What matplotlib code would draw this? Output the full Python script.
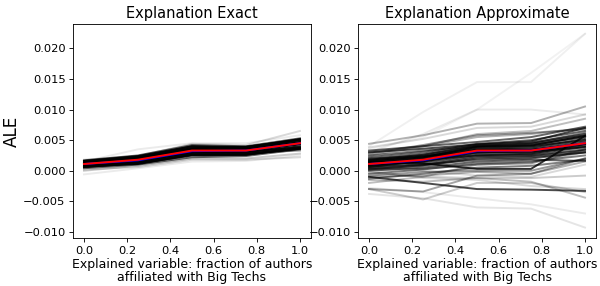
import numpy as np
import matplotlib
matplotlib.use('Agg')
import matplotlib.pyplot as plt

# grid of the explained variable
x_vals = [0.0, 0.25, 0.5, 0.75, 1.0]

# mean curves (same in both panels)
red_line = [0.0011, 0.0018, 0.0033, 0.0033, 0.0045]
blue_line = [0.0011, 0.0017, 0.0032, 0.0033, 0.0045]

# individual ALE curves, exact explanation
exact_curves = [
    [0.0011, 0.0018, 0.0033, 0.0033, 0.0045],
    [0.0014, 0.0021, 0.0036, 0.0036, 0.0050],
    [0.0008, 0.0015, 0.0030, 0.0030, 0.0040],
    [0.0016, 0.0023, 0.0038, 0.0038, 0.0052],
    [0.0006, 0.0013, 0.0027, 0.0028, 0.0036],
    [0.0010, 0.0016, 0.0031, 0.0032, 0.0043],
    [0.0012, 0.0019, 0.0034, 0.0035, 0.0047],
    [0.0009, 0.0012, 0.0025, 0.0026, 0.0037],
    [0.0004, 0.0010, 0.0022, 0.0024, 0.0035],
    [0.0017, 0.0025, 0.0042, 0.0040, 0.0053],
    [0.0013, 0.0022, 0.0040, 0.0037, 0.0048],
    [0.0018, 0.0024, 0.0044, 0.0042, 0.0065],
    [0.0015, 0.0035, 0.0045, 0.0045, 0.0058],
    [0.0002, 0.0006, 0.0018, 0.0018, 0.0022],
    [-0.0006, 0.0004, 0.0015, 0.0016, 0.0025],
    [0.0000, 0.0008, 0.0020, 0.0020, 0.0028],
    [0.0007, 0.0014, 0.0028, 0.0029, 0.0033],
    [0.0011, 0.0017, 0.0032, 0.0033, 0.0044],
    [0.0013, 0.0020, 0.0035, 0.0034, 0.0046],
    [0.0009, 0.0016, 0.0029, 0.0031, 0.0038],
    [0.0015, 0.0022, 0.0037, 0.0039, 0.0051],
    [0.0007, 0.0011, 0.0026, 0.0027, 0.0036],
    [0.0016, 0.0024, 0.0040, 0.0039, 0.0051],
    [0.0006, 0.0012, 0.0026, 0.0026, 0.0037],
]
exact_alpha = [0.9, 0.9, 0.9, 0.8, 0.9, 0.9, 0.9, 0.8, 0.6, 0.6, 0.7,
               0.15, 0.08, 0.15, 0.08, 0.2, 0.4, 0.9, 0.9, 0.9, 0.9, 0.9,
               0.9, 0.9]

# individual ALE curves, approximate explanation
approx_curves = [
    [0.0012, 0.0020, 0.0035, 0.0036, 0.0048],
    [0.0016, 0.0025, 0.0040, 0.0042, 0.0055],
    [0.0008, 0.0015, 0.0029, 0.0030, 0.0040],
    [0.0019, 0.0028, 0.0043, 0.0046, 0.0060],
    [0.0005, 0.0011, 0.0024, 0.0025, 0.0035],
    [0.0022, 0.0031, 0.0044, 0.0050, 0.0065],
    [0.0003, 0.0008, 0.0020, 0.0022, 0.0030],
    [0.0030, 0.0036, 0.0043, 0.0048, 0.0070],
    [0.0033, 0.0040, 0.0047, 0.0055, 0.0072],
    [0.0015, 0.0012, 0.0003, 0.0003, 0.0057],
    [-0.0010, -0.0020, -0.0030, -0.0031, -0.0033],
    [-0.0030, -0.0034, -0.0008, -0.0005, 0.0020],
    [-0.0030, -0.0047, -0.0020, -0.0020, -0.0035],
    [-0.0038, -0.0045, -0.0060, -0.0062, -0.0093],
    [-0.0028, -0.0035, -0.0045, -0.0055, -0.0070],
    [-0.0015, -0.0018, -0.0012, -0.0018, -0.0044],
    [0.0044, 0.0058, 0.0077, 0.0078, 0.0105],
    [0.0038, 0.0052, 0.0070, 0.0072, 0.0092],
    [0.0040, 0.0096, 0.0145, 0.0145, 0.0224],
    [0.0030, 0.0060, 0.0100, 0.0100, 0.0092],
    [0.0035, 0.0055, 0.0100, 0.0160, 0.0224],
    [0.0025, 0.0040, 0.0060, 0.0065, 0.0085],
    [0.0028, 0.0042, 0.0058, 0.0062, 0.0068],
    [-0.0005, 0.0002, 0.0012, 0.0015, 0.0025],
    [-0.0013, -0.0005, 0.0005, 0.0008, 0.0018],
    [0.0000, 0.0005, 0.0015, 0.0018, 0.0016],
    [-0.0008, -0.0002, 0.0000, 0.0000, 0.0020],
    [0.0007, 0.0010, 0.0018, 0.0020, 0.0030],
    [-0.0003, -0.0010, -0.0012, -0.0012, -0.0008],
    [0.0002, 0.0000, -0.0008, -0.0010, 0.0010],
    [0.0013, 0.0018, 0.0025, 0.0028, 0.0043],
    [0.0020, 0.0024, 0.0030, 0.0032, 0.0038],
    [0.0025, 0.0033, 0.0040, 0.0045, 0.0062],
    [0.0015, 0.0022, 0.0038, 0.0040, 0.0050],
    [0.0009, 0.0017, 0.0032, 0.0034, 0.0045],
    [0.0011, 0.0019, 0.0034, 0.0034, 0.0044],
    [0.0006, 0.0016, 0.0030, 0.0031, 0.0043],
    [0.0017, 0.0023, 0.0036, 0.0038, 0.0052],
    [-0.0010, -0.0008, -0.0002, -0.0005, 0.0015],
    [0.0004, 0.0003, 0.0010, 0.0012, 0.0035],
    [0.0031, 0.0040, 0.0055, 0.0060, 0.0070],
    [-0.0020, -0.0010, 0.0010, 0.0014, 0.0030],
    [0.0000, -0.0012, -0.0015, -0.0025, -0.0030],
    [0.0014, 0.0022, 0.0039, 0.0041, 0.0057],
    [0.0010, 0.0014, 0.0026, 0.0027, 0.0039],
    [0.0018, 0.0026, 0.0041, 0.0044, 0.0058],
    [0.0002, 0.0009, 0.0022, 0.0024, 0.0033],
]
approx_alpha = [0.7, 0.7, 0.7, 0.6, 0.6, 0.6, 0.6, 0.7, 0.6, 0.8, 0.7,
                0.35, 0.2, 0.1, 0.08, 0.25, 0.3, 0.15, 0.06, 0.08, 0.05,
                0.25, 0.4, 0.5, 0.5, 0.6, 0.4, 0.6, 0.2, 0.15, 0.6, 0.5,
                0.5, 0.7, 0.8, 0.8, 0.7, 0.7, 0.3, 0.4, 0.3, 0.25, 0.15,
                0.8, 0.7, 0.7, 0.6]

xlabel = 'Explained variable: fraction of authors\naffiliated with Big Techs'

fig, axes = plt.subplots(1, 2, figsize=(600 / 78, 286 / 78), dpi=78)
fig.subplots_adjust(left=0.122, right=0.993, bottom=0.168, top=0.916, wspace=0.2)

panels = [
    (axes[0], 'Explanation Exact', exact_curves, exact_alpha),
    (axes[1], 'Explanation Approximate', approx_curves, approx_alpha),
]
for ax, title, curves, alphas in panels:
    for ys, a in zip(curves, alphas):
        ax.plot(x_vals, ys, color='black', alpha=a, lw=1.8)
    ax.plot(x_vals, blue_line, color='blue', lw=1.8)
    ax.plot(x_vals, red_line, color='red', lw=1.8)
    ax.set_title(title, fontsize=13.5)
    ax.set_xlabel(xlabel, fontsize=11.6, linespacing=1.0, labelpad=2)
    ax.set_ylim(-0.011, 0.024)
    ax.set_yticks(np.arange(-0.010, 0.0201, 0.005))
    ax.tick_params(labelsize=10.6)

axes[0].set_ylabel('ALE', fontsize=15.5, labelpad=2)

plt.savefig('out.png')
